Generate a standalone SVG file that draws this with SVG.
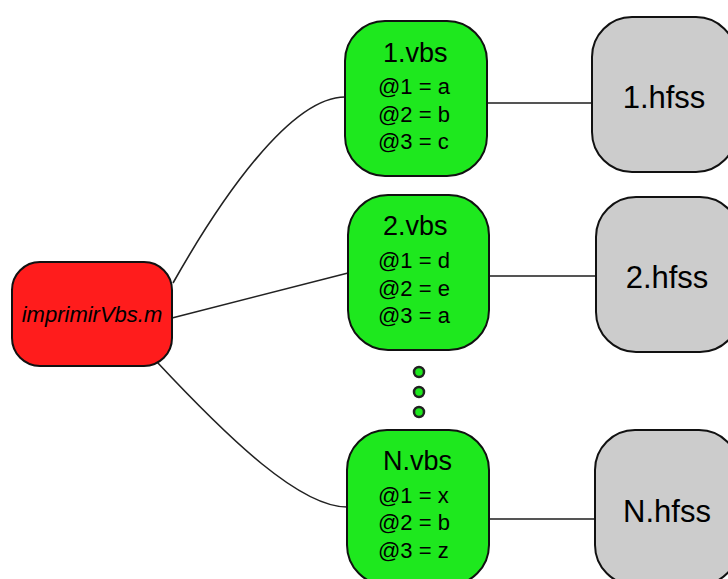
<svg xmlns="http://www.w3.org/2000/svg" width="728" height="579" viewBox="0 0 728 579">
  <style>
    .script { fill: #ff1c1c; stroke: #111; stroke-width: 2; }
    .vbs { fill: #1ee81e; stroke: #111; stroke-width: 2; }
    .hfss { fill: #cccccc; stroke: #111; stroke-width: 2; }
    .dot { fill: #1ee81e; stroke: #222; stroke-width: 2.5; }
    text { font-family: "Liberation Sans", Arial, sans-serif; fill: #000; }
    .title { font-size: 27px; }
    .param { font-size: 22px; }
    .out { font-size: 31px; text-anchor: middle; }
    .main { font-size: 22px; font-style: italic; text-anchor: middle; }
    .link { fill: none; stroke: #222; stroke-width: 1.6; }
    .pipe { fill: none; stroke: #555; stroke-width: 2; }
  </style>

  <!-- connectors -->
  <g id="connectors">
    <path class="link" d="M173,283 C220,200 290,97 345,97"/>
    <path class="link" d="M172,318 L348,273"/>
    <path class="link" d="M157,362 C230,440 300,507 347,507"/>
    <path class="pipe" d="M487,103 L592,103"/>
    <path class="pipe" d="M489,276 L596,276"/>
    <path class="pipe" d="M489,519 L595,519"/>
  </g>

  <!-- generator script -->
  <g id="imprimirVbs">
    <rect class="script" x="12" y="262" width="160" height="104" rx="28" ry="28"/>
    <text class="main" x="92" y="322">imprimirVbs.m</text>
  </g>

  <!-- VBS scripts -->
  <g id="vbs1">
    <rect class="vbs" x="345" y="21" width="142" height="155" rx="40" ry="40"/>
    <text class="title" x="383" y="62">1.vbs</text>
    <text class="param" x="378" y="94">@1 = a</text>
    <text class="param" x="378" y="122">@2 = b</text>
    <text class="param" x="378" y="149">@3 = c</text>
  </g>
  <g id="vbs2">
    <rect class="vbs" x="348" y="195" width="141" height="155" rx="40" ry="40"/>
    <text class="title" x="383" y="235">2.vbs</text>
    <text class="param" x="378" y="268">@1 = d</text>
    <text class="param" x="378" y="296">@2 = e</text>
    <text class="param" x="378" y="323">@3 = a</text>
  </g>
  <g id="ellipsis">
    <circle class="dot" cx="419" cy="372" r="5"/>
    <circle class="dot" cx="419" cy="392" r="5"/>
    <circle class="dot" cx="419" cy="412" r="5"/>
  </g>
  <g id="vbsN">
    <rect class="vbs" x="347" y="430" width="142" height="155" rx="40" ry="40"/>
    <text class="title" x="383" y="470">N.vbs</text>
    <text class="param" x="378" y="503">@1 = x</text>
    <text class="param" x="378" y="530">@2 = b</text>
    <text class="param" x="378" y="558">@3 = z</text>
  </g>

  <!-- HFSS projects -->
  <g id="hfss1">
    <rect class="hfss" x="592" y="17" width="144" height="155" rx="40" ry="40"/>
    <text class="out" x="664" y="108">1.hfss</text>
  </g>
  <g id="hfss2">
    <rect class="hfss" x="596" y="197" width="144" height="155" rx="40" ry="40"/>
    <text class="out" x="667" y="288">2.hfss</text>
  </g>
  <g id="hfssN">
    <rect class="hfss" x="595" y="430" width="144" height="155" rx="40" ry="40"/>
    <text class="out" x="667" y="522">N.hfss</text>
  </g>
</svg>
